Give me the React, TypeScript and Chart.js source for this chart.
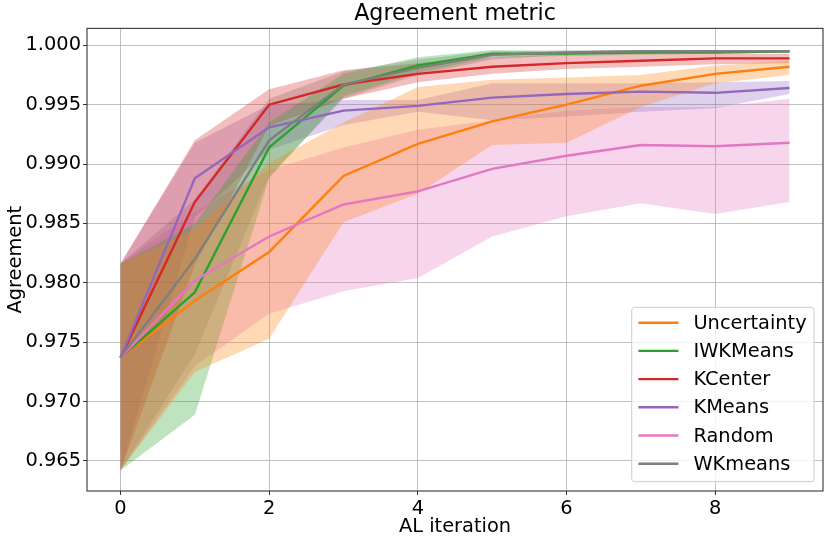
import { useEffect, useRef } from 'react'
import { Chart, registerables } from 'chart.js'
import type { Plugin } from 'chart.js'

Chart.register(...registerables)

// AL iterations on the x axis
const iterations = [0, 1, 2, 3, 4, 5, 6, 7, 8, 9]
const xTicks = [0, 2, 4, 6, 8]
const yTicks = [0.965, 0.97, 0.975, 0.98, 0.985, 0.99, 0.995, 1.0]

const seriesNames = ['Uncertainty', 'IWKMeans', 'KCenter', 'KMeans', 'Random', 'WKmeans']
const seriesColors = ['#ff7f0e', '#2ca02c', '#d62728', '#9467bd', '#e377c2', '#7f7f7f']
const bandColors = [
  'rgba(255,127,14,0.3)',
  'rgba(44,160,44,0.3)',
  'rgba(214,39,40,0.3)',
  'rgba(148,103,189,0.3)',
  'rgba(227,119,194,0.3)',
  'rgba(127,127,127,0.3)'
]

// mean agreement and the shaded band (upper / lower) for each strategy
const uncertaintyMean = [0.9737, 0.9785, 0.9826, 0.989, 0.9917, 0.9936, 0.995, 0.9966, 0.9976, 0.9982]
const uncertaintyUpper = [0.9816, 0.9845, 0.9901, 0.9935, 0.9965, 0.9971, 0.9973, 0.9975, 0.9983, 0.9987]
const uncertaintyLower = [0.9642, 0.9725, 0.9753, 0.9851, 0.9875, 0.9916, 0.9918, 0.9948, 0.9968, 0.9975]

const iwkMean = [0.9737, 0.9792, 0.9914, 0.9966, 0.9983, 0.9993, 0.9993, 0.9994, 0.9994, 0.9995]
const iwkUpper = [0.9816, 0.985, 0.9935, 0.9976, 0.999, 0.9996, 0.9995, 0.9996, 0.9996, 0.9996]
const iwkLower = [0.9642, 0.9689, 0.9888, 0.9957, 0.9977, 0.999, 0.9991, 0.9992, 0.9993, 0.9994]

const kcenterMean = [0.9737, 0.9868, 0.995, 0.9967, 0.9976, 0.9982, 0.9985, 0.9987, 0.9989, 0.9989]
const kcenterUpper = [0.9816, 0.992, 0.9963, 0.9979, 0.9985, 0.999, 0.9992, 0.9993, 0.9993, 0.9993]
const kcenterLower = [0.9642, 0.9815, 0.9932, 0.9955, 0.9969, 0.9976, 0.998, 0.9982, 0.9984, 0.9985]

const kmeansMean = [0.9737, 0.9888, 0.9931, 0.9945, 0.9949, 0.9956, 0.9959, 0.9961, 0.996, 0.9964]
const kmeansUpper = [0.9816, 0.9918, 0.995, 0.9954, 0.9954, 0.9968, 0.9968, 0.9968, 0.9969, 0.997]
const kmeansLower = [0.9642, 0.9855, 0.9912, 0.9933, 0.9944, 0.9937, 0.994, 0.9944, 0.9947, 0.9959]

const randomMean = [0.9737, 0.9802, 0.9839, 0.9866, 0.9877, 0.9896, 0.9907, 0.9916, 0.9915, 0.9918]
const randomUpper = [0.9816, 0.986, 0.9895, 0.9914, 0.9929, 0.9937, 0.9945, 0.9948, 0.9948, 0.9955]
const randomLower = [0.9642, 0.973, 0.9774, 0.9793, 0.9804, 0.9839, 0.9856, 0.9867, 0.9858, 0.9868]

const wkMean = [0.9737, 0.982, 0.992, 0.9967, 0.9981, 0.9992, 0.9994, 0.9995, 0.9995, 0.9995]
const wkUpper = [0.9816, 0.987, 0.9955, 0.9978, 0.9988, 0.9995, 0.9996, 0.9996, 0.9996, 0.9996]
const wkLower = [0.9642, 0.974, 0.989, 0.9955, 0.9975, 0.9988, 0.9992, 0.9993, 0.9994, 0.9994]

const means = [uncertaintyMean, iwkMean, kcenterMean, kmeansMean, randomMean, wkMean]
const uppers = [uncertaintyUpper, iwkUpper, kcenterUpper, kmeansUpper, randomUpper, wkUpper]
const lowers = [uncertaintyLower, iwkLower, kcenterLower, kmeansLower, randomLower, wkLower]

const FONT = '"DejaVu Sans", sans-serif'
const FONT_SIZE = 19.4
const TITLE_SIZE = 22.2

const toPoints = (ys: number[]) => ys.map((y, i) => ({ x: iterations[i], y }))

// frame on all four sides + matplotlib style legend box in the lower right
const frameAndLegend: Plugin<'line'> = {
  id: 'frameAndLegend',
  afterDraw(chart) {
    const { ctx, chartArea: ca } = chart
    ctx.save()
    ctx.strokeStyle = '#222'
    ctx.lineWidth = 1
    ctx.strokeRect(ca.left, ca.top, ca.right - ca.left, ca.bottom - ca.top)

    ctx.font = `${FONT_SIZE}px ${FONT}`
    const textW = Math.max(...seriesNames.map(n => ctx.measureText(n).width))
    const w = 6.7 + 40 + 15 + textW + 7.3
    const h = 174.4
    const x0 = ca.right - 9 - w
    const y0 = ca.bottom - 9.3 - h

    ctx.beginPath()
    ctx.roundRect(x0, y0, w, h, 3)
    ctx.fillStyle = 'rgba(255,255,255,0.8)'
    ctx.fill()
    ctx.strokeStyle = '#cccccc'
    ctx.lineWidth = 1
    ctx.stroke()

    ctx.textAlign = 'left'
    ctx.textBaseline = 'middle'
    seriesNames.forEach((name, i) => {
      const cy = y0 + 15.4 + i * 28.2
      ctx.beginPath()
      ctx.moveTo(x0 + 6.7, cy)
      ctx.lineTo(x0 + 46.7, cy)
      ctx.strokeStyle = seriesColors[i]
      ctx.lineWidth = 2.4
      ctx.stroke()
      ctx.fillStyle = '#000'
      ctx.fillText(name, x0 + 61.7, cy + 1)
    })
    ctx.restore()
  }
}

export default function App() {
  const canvasRef = useRef<HTMLCanvasElement | null>(null)

  useEffect(() => {
    document.body.style.margin = '0'
    if (!canvasRef.current) return

    const lineSets = seriesNames.map((name, i) => ({
      label: name,
      data: toPoints(means[i]),
      borderColor: seriesColors[i],
      backgroundColor: seriesColors[i],
      borderWidth: 2.4,
      pointRadius: 0,
      tension: 0,
      fill: false,
      order: 6 - i
    }))

    const bandSets = seriesNames.flatMap((name, i) => [
      {
        label: `${name} lower`,
        data: toPoints(lowers[i]),
        borderColor: 'transparent',
        borderWidth: 0,
        pointRadius: 0,
        fill: false,
        order: 20
      },
      {
        label: `${name} upper`,
        data: toPoints(uppers[i]),
        borderColor: 'transparent',
        backgroundColor: bandColors[i],
        borderWidth: 0,
        pointRadius: 0,
        fill: '-1',
        order: 20
      }
    ])

    const tickFont = { family: FONT, size: FONT_SIZE }

    const chart = new Chart(canvasRef.current, {
      type: 'line',
      data: { datasets: [...bandSets, ...lineSets] as any },
      plugins: [frameAndLegend],
      options: {
        animation: false,
        responsive: true,
        maintainAspectRatio: false,
        events: [],
        layout: { padding: { left: 0, right: 7, top: 0, bottom: 0 } },
        plugins: {
          legend: { display: false },
          tooltip: { enabled: false },
          filler: { drawTime: 'beforeDatasetsDraw' },
          title: {
            display: true,
            text: 'Agreement metric',
            color: '#000',
            fullSize: false,
            font: { family: FONT, size: TITLE_SIZE, weight: 'normal', lineHeight: 1.2 },
            padding: { top: 1, bottom: 0.7 }
          }
        },
        scales: {
          x: {
            type: 'linear',
            min: -0.45,
            max: 9.45,
            afterBuildTicks: s => {
              s.ticks = xTicks.map(v => ({ value: v }))
            },
            afterFit: s => {
              s.height = 52
            },
            ticks: {
              color: '#000',
              font: tickFont,
              padding: 2,
              maxRotation: 0,
              callback: v => String(v)
            },
            grid: { color: '#b0b0b0', lineWidth: 0.8, tickLength: 4, tickColor: '#000' },
            border: { display: false },
            title: {
              display: true,
              text: 'AL iteration',
              color: '#000',
              font: tickFont,
              padding: { top: 0, bottom: 4 }
            }
          },
          y: {
            type: 'linear',
            min: 0.96247,
            max: 1.00143,
            afterBuildTicks: s => {
              s.ticks = yTicks.map(v => ({ value: v }))
            },
            afterFit: s => {
              s.width = 87
            },
            ticks: {
              color: '#000',
              font: tickFont,
              padding: 2,
              callback: v => Number(v).toFixed(3)
            },
            grid: { color: '#b0b0b0', lineWidth: 0.8, tickLength: 4, tickColor: '#000' },
            border: { display: false },
            title: {
              display: true,
              text: 'Agreement',
              color: '#000',
              font: tickFont,
              padding: { top: 4, bottom: 0 }
            }
          }
        }
      }
    })

    return () => chart.destroy()
  }, [])

  return (
    <div style={{ position: 'relative', width: 830, height: 543 }}>
      <canvas ref={canvasRef} />
    </div>
  )
}
